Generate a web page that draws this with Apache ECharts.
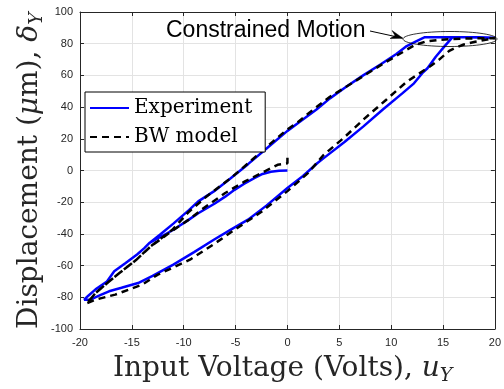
<!DOCTYPE html>
<html>
<head>
<meta charset="utf-8">
<script src="https://cdn.jsdelivr.net/npm/echarts@6/dist/echarts.min.js"></script>
<style>
  html, body { margin: 0; padding: 0; background: #fff; }
  #chart { width: 504px; height: 389px; }
</style>
</head>
<body>
<div id="chart"></div>
<script>
// Axis ticks
const xTicks = [-20, -15, -10, -5, 0, 5, 10, 15, 20];
const yTicks = [-100, -80, -60, -40, -20, 0, 20, 40, 60, 80, 100];

// Experiment: initial loading from 0 V down to -20 V
const expInitV = [0, -0.8, -1.6, -2.4, -3.2, -4.2, -5.1, -6.0, -7.0, -8.6, -9.5, -11.0, -12.2, -13.3];
const expInitD = [0, -0.2, -0.8, -2.2, -4.8, -8.5, -12.2, -16.5, -20.8, -27.0, -31.0, -37.4, -41.8, -45.7];
// Experiment: lower-left tail shared with the descending branch
const expTailV = [-13.8, -14.5, -15.6, -16.7, -17.4, -18.5, -19.2, -19.6];
const expTailD = [-49.0, -53.0, -58.4, -63.6, -70.0, -75.0, -79.0, -81.5];
// Experiment: ascending branch -20 V -> 20 V
const expAscV = [-19.6, -19.0, -18.0, -17.2, -16.0, -14.4, -13.0, -11.0, -9.0, -7.1, -5.5, -3.8, -2.0, 0.0, 1.5, 2.9, 3.5, 5.5, 7.3, 9.2, 11.1, 12.2, 13.0, 13.5, 14.3, 15.1, 15.9, 17.0, 18.5, 20.0];
const expAscD = [-81.5, -81.5, -78.5, -76.2, -74.0, -71.0, -66.5, -59.4, -51.5, -43.7, -37.5, -31.0, -22.0, -11.0, -3.5, 4.7, 7.8, 18.0, 27.7, 38.5, 48.8, 55.0, 61.4, 64.5, 71.8, 78.0, 84.0, 84.0, 84.0, 83.8];
// Experiment: descending branch 20 V -> -13 V (then the shared tail)
const expDescV = [20.0, 17.0, 15.0, 13.2, 12.4, 11.5, 10.5, 9.0, 7.3, 5.7, 4.1, 2.8, 1.0, 0.0, -1.9, -3.8, -5.5, -7.1, -8.6, -9.5, -11.0, -12.3, -13.3];
const expDescD = [83.8, 84.0, 84.0, 84.0, 81.5, 78.5, 73.5, 67.0, 60.0, 53.0, 45.5, 38.5, 29.8, 25.0, 14.5, 4.0, -5.0, -13.2, -19.5, -25.0, -33.5, -40.5, -45.7];

// BW model: initial loading
const bwInitV = [0, 0, -0.95, -2.5, -4.1, -6.0, -8.3, -9.5, -11.1, -13.2];
const bwInitD = [8.0, 4.5, 3.6, -1.6, -6.9, -14.2, -24.8, -31.0, -38.0, -48.0];
// BW model: lower-left tail
const bwTailV = [-14.6, -16.2, -17.2, -18.5, -19.3];
const bwTailD = [-56.5, -64.7, -70.0, -77.3, -83.6];
// BW model: ascending branch
const bwAscV = [-19.3, -18.5, -16.6, -14.0, -12.5, -9.4, -7.1, -5.0, -2.5, 0.0, 2.0, 3.5, 5.5, 7.3, 9.5, 11.5, 13.7, 14.6, 15.6, 16.2, 17.0, 18.1, 19.5, 20.0];
const bwAscD = [-84.5, -81.5, -78.3, -72.0, -65.7, -56.3, -46.5, -37.0, -26.0, -13.0, -1.5, 9.9, 21.0, 32.0, 44.5, 56.0, 65.5, 69.8, 75.5, 77.5, 79.5, 81.2, 83.0, 83.4];
// BW model: descending branch
const bwDescV = [20.0, 18.1, 16.0, 14.6, 13.3, 12.3, 10.8, 9.0, 7.3, 5.7, 4.1, 2.5, 1.0, 0.0, -2.0, -3.8, -5.5, -7.8, -9.5, -11.1, -13.2];
const bwDescD = [83.4, 83.4, 83.0, 82.4, 81.3, 79.2, 73.5, 66.5, 59.5, 53.0, 46.5, 38.5, 30.5, 26.0, 15.0, 4.5, -5.0, -16.4, -26.0, -37.4, -47.9];

const seriesNames = ['Experiment', 'BW model'];

function pairs(xs, ys) { return xs.map((x, i) => [x, ys[i]]); }

const expPath = [].concat(
  pairs(expInitV, expInitD), pairs(expTailV, expTailD),
  pairs(expAscV, expAscD), pairs(expDescV, expDescD), pairs(expTailV, expTailD));
const bwPath = [].concat(
  pairs(bwInitV, bwInitD), pairs(bwTailV, bwTailD),
  pairs(bwAscV, bwAscD), pairs(bwDescV, bwDescD), pairs(bwTailV, bwTailD));

const AX = '#262626';
const GRIDC = '#e3e3e3';
const LEFT = 80, RIGHT = 4, TOP = 12, BOTTOM = 60;

function baseAxis(ticks, pos, labels) {
  return {
    type: 'value', position: pos,
    min: ticks[0], max: ticks[ticks.length - 1], interval: ticks[1] - ticks[0],
    axisLine: { show: true, onZero: false, lineStyle: { color: AX, width: 1 } },
    axisTick: { show: true, inside: true, length: 4, lineStyle: { color: AX } },
    axisLabel: { show: labels, color: AX, fontFamily: 'Liberation Sans', fontSize: 11, margin: 7 },
    splitLine: { show: labels, lineStyle: { color: GRIDC, width: 1 } }
  };
}

const xs = [baseAxis(xTicks, 'bottom', true), baseAxis(xTicks, 'top', false)];
xs[0].axisLabel.margin = 8;
const ys = [baseAxis(yTicks, 'left', true), baseAxis(yTicks, 'right', false)];

// measure text for composing the math-style axis titles
const ctx = document.createElement('canvas').getContext('2d');
function tw(str, font) { ctx.font = font; return ctx.measureText(str).width; }

const TF = 'DejaVu Serif';
const TS = 28, SUB = 19;
const MID = 0.346;

function titleParts(parts) {
  // parts: [text, fontSize, italic, baselineShift]
  const out = [];
  let x = 0;
  parts.forEach(p => {
    const [text, size, italic, shift] = p;
    const font = (italic ? 'italic ' : '') + size + 'px "' + TF + '"';
    out.push({
      type: 'text', x: x, y: shift - MID * size,
      style: { text: text, fontFamily: TF, fontSize: size, fontStyle: italic ? 'italic' : 'normal',
               fill: '#262626', align: 'left', verticalAlign: 'middle' }
    });
    x += tw(text, font);
  });
  return out;
}

const xTitle = {
  type: 'group', x: 113, y: 378,
  children: titleParts([
    ['Input Voltage (Volts), ', TS, false, 0],
    ['u', TS, true, 0],
    ['Y', SUB, true, 5]
  ])
};
const yTitle = {
  type: 'group', x: 39, y: 329, rotation: Math.PI / 2,
  children: titleParts([
    ['Displacement (', TS, false, 0],
    ['\u03bc', TS, true, 0],
    ['m), ', TS, false, 0],
    ['\u03b4', TS, true, 0],
    ['Y', SUB, true, 5]
  ])
};

const chart = echarts.init(document.getElementById('chart'), null, { renderer: 'canvas' });
chart.setOption({
  animation: false,
  backgroundColor: '#fff',
  grid: { left: LEFT, right: RIGHT, top: TOP, bottom: BOTTOM, containLabel: false },
  xAxis: xs,
  yAxis: ys,
  legend: {
    orient: 'vertical', left: 85, top: 92,
    data: seriesNames,
    itemWidth: 39, itemHeight: 14, itemGap: 9,
    padding: [6, 13, 5, 4],
    backgroundColor: '#fff', borderColor: '#000', borderWidth: 1,
    itemStyle: { opacity: 0 },
    textStyle: { fontFamily: TF, fontSize: 20, color: '#000' }
  },
  series: [
    {
      name: seriesNames[0], type: 'line', data: expPath, symbol: 'none', z: 2,
      lineStyle: { color: '#0000ff', width: 2.5 }, itemStyle: { color: '#0000ff' }
    },
    {
      name: seriesNames[1], type: 'line', data: bwPath, symbol: 'none', z: 3,
      lineStyle: { color: '#000', width: 2.5, type: [7, 5] }, itemStyle: { color: '#000' }
    }
  ],
  graphic: [
    xTitle, yTitle,
    {
      type: 'ellipse', z: 10,
      shape: { cx: 450, cy: 39, rx: 47, ry: 7.5 },
      style: { fill: 'none', stroke: '#000', lineWidth: 0.8 }
    },
    {
      type: 'line', z: 10,
      shape: { x1: 370, y1: 31, x2: 402, y2: 38 },
      style: { stroke: '#000', lineWidth: 1 }
    },
    {
      type: 'polygon', z: 10,
      shape: { points: [[403, 38.3], [392, 30.5], [395, 35.5], [390, 38.5]] },
      style: { fill: '#000', stroke: '#000', lineWidth: 0.5 }
    },
    {
      type: 'text', z: 10, x: 166, y: 31,
      style: { text: 'Constrained Motion', fontFamily: 'Liberation Sans', fontSize: 23,
               fill: '#000', align: 'left', verticalAlign: 'middle' }
    }
  ]
});
</script>
</body>
</html>
